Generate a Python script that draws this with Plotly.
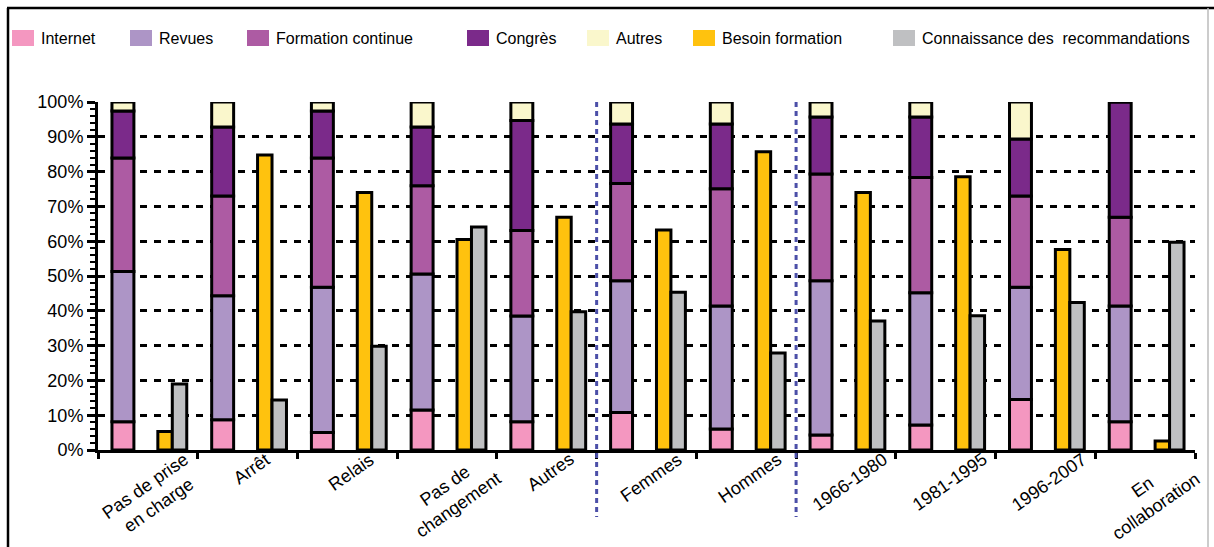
import numpy as np
import plotly.graph_objects as go

# Categories (x axis)
categories = [
    "Pas de prise<br>en charge", "Arrêt", "Relais", "Pas de<br>changement", "Autres",
    "Femmes", "Hommes", "1966-1980", "1981-1995", "1996-2007", "En<br>collaboration",
]

# Sources of information (stacked, % of each group)
internet  = [8.1, 8.7, 5.0, 11.5, 8.1, 10.8, 6.0, 4.3, 7.2, 14.5, 8.1]
revues    = [43.2, 35.6, 41.8, 39.1, 30.4, 37.8, 35.4, 44.3, 38.0, 32.3, 33.3]
formation = [32.6, 28.7, 37.1, 25.3, 24.6, 28.0, 33.7, 30.7, 33.1, 26.2, 25.5]
congres   = [13.5, 19.8, 13.5, 16.9, 31.6, 17.1, 18.6, 16.4, 17.4, 16.4, 33.1]
autres    = [2.6, 7.2, 2.6, 7.2, 5.3, 6.3, 6.3, 4.3, 4.3, 10.6, 0.0]

# Separate indicators (%)
besoin_formation = [5.3, 84.8, 74.0, 60.5, 66.9, 63.2, 85.7, 74.0, 78.5, 57.6, 2.6]
connaissance     = [19.0, 14.4, 29.8, 64.1, 39.7, 45.3, 27.9, 37.1, 38.6, 42.4, 59.7]

stack_series = [
    ("Internet", internet, "#F497C0"),
    ("Revues", revues, "#AD95C6"),
    ("Formation continue", formation, "#AD5BA3"),
    ("Congrès", congres, "#7B2A8A"),
    ("Autres", autres, "#FAF7CC"),
]
single_series = [
    ("Besoin formation", besoin_formation, "#FFC20E", 0.10),
    ("Connaissance des\u00a0 recommandations", connaissance, "#BFC0C2", 0.245),
]

W, H = 1214, 547
ML, MR, MT, MB = 98, 19, 102, 97
PW, PH = W - ML - MR, H - MT - MB
FONT = "Liberation Sans, Arial, sans-serif"


def px(x):
    return (x - ML) / PW


def py(y):
    return (H - MB - y) / PH


fig = go.Figure()

outline = dict(color="black", width=3)
base = np.zeros(len(categories))
for name, vals, color in stack_series:
    vals = np.array(vals)
    fig.add_trace(go.Bar(
        x=categories, y=vals, base=base, name=name,
        marker=dict(color=color, line=outline),
        offset=-0.36, width=0.22, showlegend=False,
    ))
    base = base + vals

for name, vals, color, off in single_series:
    fig.add_trace(go.Bar(
        x=categories, y=vals, name=name,
        marker=dict(color=color, line=outline),
        offset=off, width=0.145, showlegend=False,
    ))

shapes = []
annotations = []

# Rotated category labels, centred under each category
for cat in categories:
    annotations.append(dict(
        xref="x", yref="paper", x=cat, y=py(448), xshift=4,
        text=cat, showarrow=False, textangle=-35, align="center",
        xanchor="center", yanchor="top", borderpad=0,
        font=dict(family=FONT, size=18, color="black"),
    ))

# Group separators
for xb in (4.5, 6.5):
    shapes.append(dict(
        type="line", xref="x", yref="paper", x0=xb, x1=xb, y0=1.0, y1=py(517),
        line=dict(color="#4B4FA8", width=3, dash="5px,4px"), layer="above",
    ))

# Legend row
legend_items = [(n, c) for n, _, c in stack_series] + [(n, c) for n, _, c, _ in single_series]
legend_x = [12, 130, 247, 467, 587, 693, 893]
for (name, color), lx in zip(legend_items, legend_x):
    shapes.append(dict(
        type="rect", xref="paper", yref="paper",
        x0=px(lx), x1=px(lx + 22), y0=py(46), y1=py(30),
        fillcolor=color, line=dict(width=0),
    ))
    annotations.append(dict(
        xref="paper", yref="paper", x=px(lx + 27), y=py(38),
        text=name, showarrow=False, xanchor="left", yanchor="middle",
        font=dict(family=FONT, size=16, color="black"),
    ))

# Outer frame
shapes.append(dict(type="line", xref="paper", yref="paper",
                   x0=px(8), x1=px(8), y0=py(8), y1=py(560),
                   line=dict(color="black", width=2.5)))
shapes.append(dict(type="line", xref="paper", yref="paper",
                   x0=px(7), x1=px(1220), y0=py(8), y1=py(8),
                   line=dict(color="black", width=2.5)))
shapes.append(dict(type="line", xref="paper", yref="paper",
                   x0=px(1208), x1=px(1208), y0=py(8), y1=py(560),
                   line=dict(color="#BBBBBB", width=1.5)))

fig.update_layout(
    width=W, height=H,
    margin=dict(l=ML, r=MR, t=MT, b=MB),
    paper_bgcolor="white", plot_bgcolor="white",
    barmode="overlay",
    showlegend=False,
    shapes=shapes,
    annotations=annotations,
    font=dict(family=FONT, color="black"),
)

fig.update_xaxes(
    type="category",
    range=[-0.5, len(categories) - 0.5],
    automargin=False,
    showline=True, linecolor="black", linewidth=3,
    ticks="outside", tickson="boundaries", ticklen=6, tickwidth=2.5, tickcolor="black",
    showticklabels=False,
    showgrid=False,
)

fig.update_yaxes(
    range=[0, 100], dtick=10, ticksuffix="%",
    automargin=False,
    showline=True, linecolor="black", linewidth=3,
    ticks="outside", ticklen=8, tickwidth=3, tickcolor="black",
    minor=dict(dtick=2, ticks="outside", ticklen=5, tickwidth=2, tickcolor="black", showgrid=False),
    tickfont=dict(family=FONT, size=18, color="black"),
    showgrid=True, gridcolor="black", gridwidth=3, griddash="7px,7px",
    zeroline=False,
)

fig.write_html("out.html")
